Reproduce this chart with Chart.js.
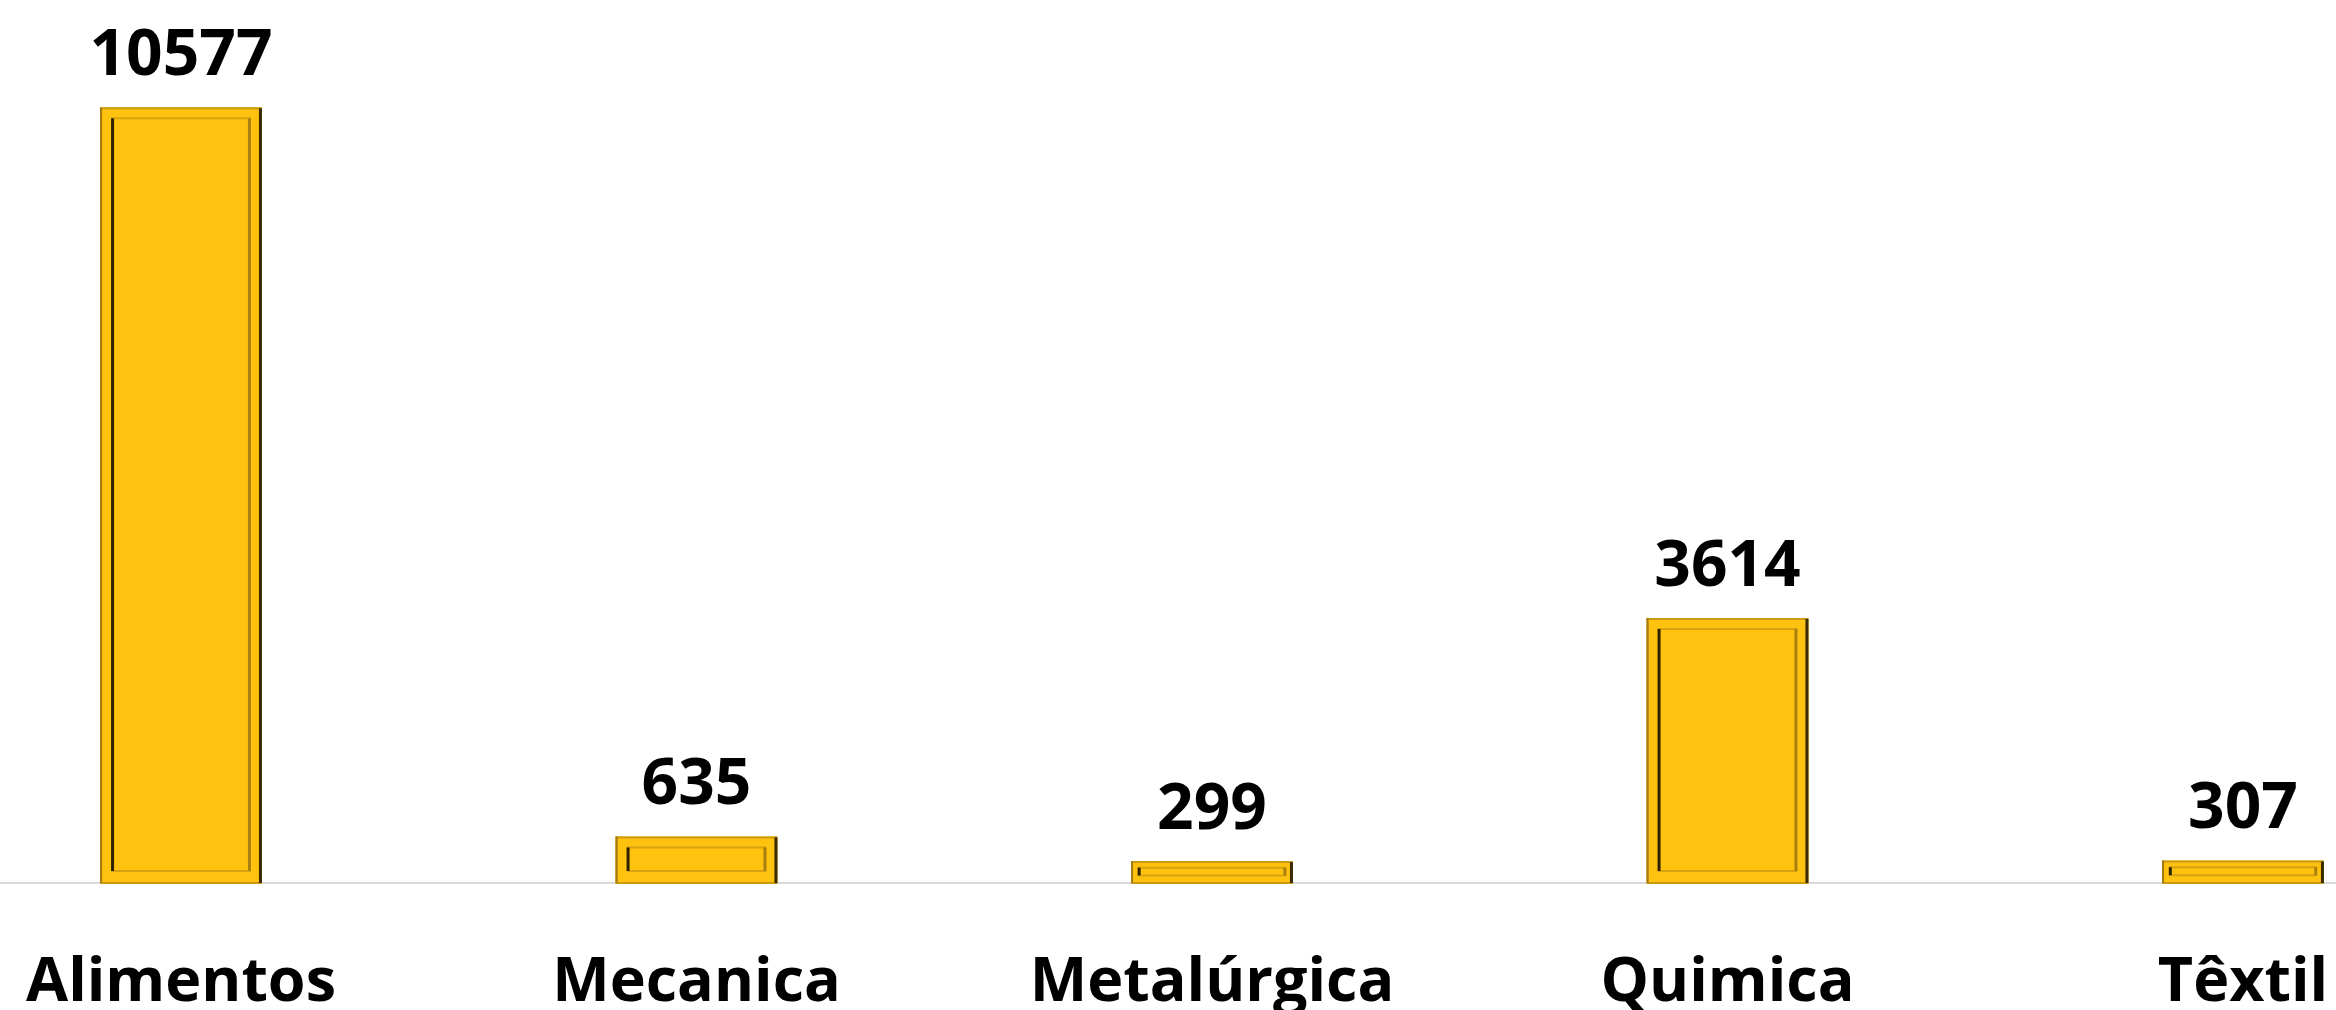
<!DOCTYPE html>
<html lang="pt-BR">
<head>
<meta charset="UTF-8">
<title>Setores</title>
<script src="https://cdn.jsdelivr.net/npm/chart.js@4/dist/chart.umd.min.js"></script>
<style>
  html, body { margin: 0; padding: 0; background: #ffffff; }
  #area { width: 2336px; height: 1010px; position: relative; }
</style>
</head>
<body>
<div id="area">
  <canvas id="graficoSetores"></canvas>
</div>
<script>
const categorias = ["Alimentos", "Mecanica", "Metalúrgica", "Quimica", "Têxtil"];
const valores = [10577, 635, 299, 3614, 307];

const corBarra = "#FFC20F";
const fonteTexto = "'Open Sans', 'Noto Sans', sans-serif";

// linha cinza da base, atravessa toda a largura
const linhaBase = {
  id: "linhaBase",
  beforeDatasetsDraw(chart) {
    const ctx = chart.ctx;
    const y = chart.scales.y.getPixelForValue(0);
    ctx.save();
    ctx.strokeStyle = "#D9D9D9";
    ctx.lineWidth = 2;
    ctx.beginPath();
    ctx.moveTo(0, y);
    ctx.lineTo(chart.width, y);
    ctx.stroke();
    ctx.restore();
  }
};

// efeito de relevo nas barras + rótulos de valor
const relevoBarras = {
  id: "relevoBarras",
  afterDatasetsDraw(chart) {
    const ctx = chart.ctx;
    const meta = chart.getDatasetMeta(0);

    meta.data.forEach((barra, i) => {
      const esq = barra.x - barra.width / 2;
      const dir = barra.x + barra.width / 2;
      const topo = barra.y;
      const base = barra.base;
      const altura = base - topo;
      const recuo = Math.min(11, altura * 0.3);

      ctx.save();

      // moldura externa
      ctx.lineWidth = 2;
      ctx.strokeStyle = "#C99A12";
      ctx.strokeRect(esq + 1, topo + 1, barra.width - 2, altura - 1);

      ctx.fillStyle = "#3A2C00";
      ctx.fillRect(dir - 3, topo + 1, 3, altura - 1);

      ctx.fillStyle = "#A47A14";
      ctx.fillRect(esq, topo, 2, altura);

      // moldura interna
      const iEsq = esq + recuo;
      const iDir = dir - recuo;
      const iTopo = topo + recuo;
      const iBase = base - recuo - 1;

      if (iBase > iTopo) {
        ctx.lineWidth = 2;
        ctx.strokeStyle = "#D9A213";
        ctx.beginPath();
        ctx.moveTo(iEsq, iTopo);
        ctx.lineTo(iDir, iTopo);
        ctx.moveTo(iEsq, iBase);
        ctx.lineTo(iDir, iBase);
        ctx.stroke();

        ctx.fillStyle = "#2E2200";
        ctx.fillRect(iEsq, iTopo, 3, iBase - iTopo);

        ctx.fillStyle = "#A8800F";
        ctx.fillRect(iDir - 3, iTopo, 3, iBase - iTopo);
      }

      // valor acima da barra
      ctx.fillStyle = "#000000";
      ctx.font = `bold 64px ${fonteTexto}`;
      ctx.textAlign = "center";
      ctx.textBaseline = "alphabetic";
      ctx.fillText(String(valores[i]), barra.x, topo - 32);

      ctx.restore();
    });
  }
};

let grafico;

function criarGrafico() {
  const ctx = document.getElementById("graficoSetores").getContext("2d");

  if (grafico) {
    grafico.destroy();
  }

  grafico = new Chart(ctx, {
    type: "bar",
    data: {
      labels: categorias,
      datasets: [
        {
          data: valores,
          backgroundColor: corBarra,
          borderWidth: 0,
          barPercentage: 0.314,
          categoryPercentage: 1,
          clip: false
        }
      ]
    },
    options: {
      responsive: true,
      maintainAspectRatio: false,
      animation: false,
      devicePixelRatio: 1,
      layout: {
        padding: { left: 181, right: 93, top: 3, bottom: 0 }
      },
      plugins: {
        legend: { display: false },
        tooltip: { enabled: false }
      },
      scales: {
        x: {
          offset: false,
          grid: { display: false, drawTicks: false },
          border: { display: false },
          ticks: {
            color: "#000000",
            padding: 64,
            maxRotation: 0,
            autoSkip: false,
            font: { family: fonteTexto, size: 61, weight: "bold" }
          },
          afterFit(escala) {
            escala.height = 127;
            escala.paddingLeft = 0;
            escala.paddingRight = 0;
          }
        },
        y: {
          display: false,
          min: 0,
          max: 12000
        }
      }
    },
    plugins: [linhaBase, relevoBarras]
  });
}

document.addEventListener("DOMContentLoaded", () => {
  criarGrafico();
});
</script>
</body>
</html>
